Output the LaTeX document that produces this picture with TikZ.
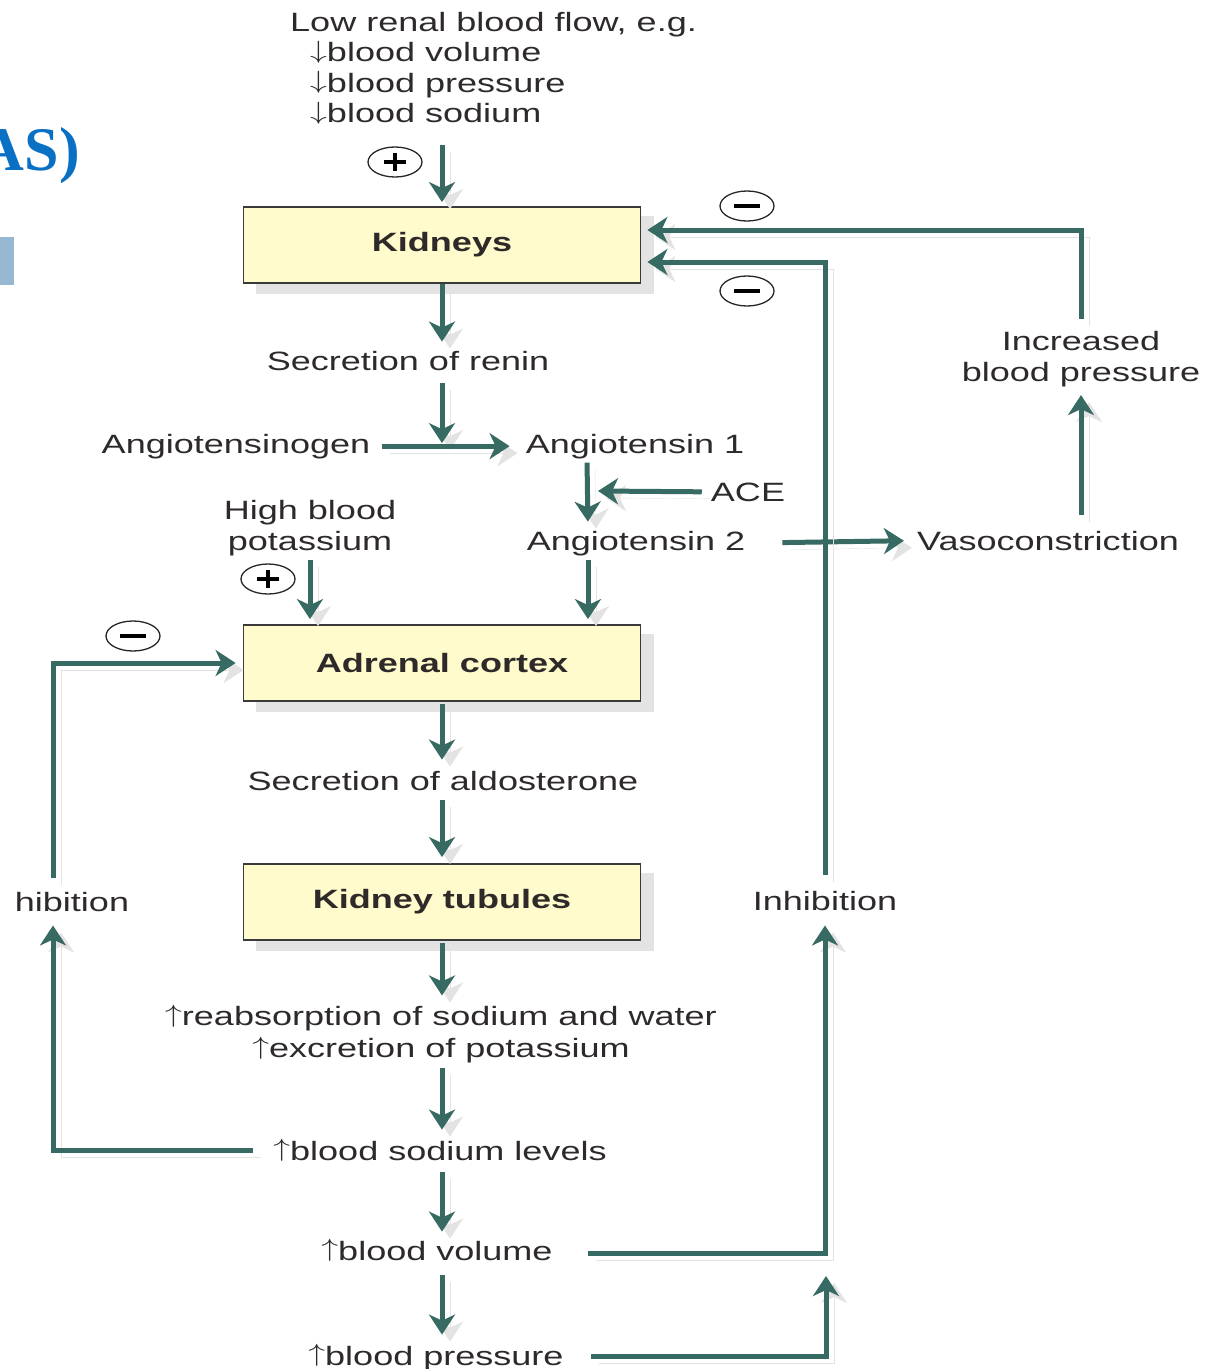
\documentclass[tikz,border=0pt]{standalone}
\usepackage{fontspec}
\usepackage{graphicx}
\setmainfont{Liberation Sans}[FakeStretch=1.36]
\newfontfamily\titlefont{Liberation Serif}
\usetikzlibrary{arrows.meta,shapes.geometric,calc}
\newcommand{\myup}{\smash{\raisebox{3.5pt}{\scalebox{1.35}[1.0]{$\uparrow$}}}}
\newcommand{\mydown}{\smash{\raisebox{3.5pt}{\scalebox{1.35}[1.0]{$\downarrow$}}}}
\definecolor{teal1}{HTML}{376A62}
\definecolor{shadowc}{HTML}{E3E3E3}
\definecolor{boxf}{HTML}{FFFBCC}
\definecolor{boxb}{HTML}{3A3A3A}
\definecolor{txtc}{HTML}{2E2A2A}
\definecolor{titleblue}{HTML}{0A70C4}
\definecolor{rectblue}{HTML}{97B8D3}
\tikzset{
  txt/.style={inner sep=0pt, text=txtc, font=\fontsize{26.5}{31}\selectfont},
  mbox/.style={draw=boxb, line width=1.8pt, fill=boxf, minimum width=397pt, minimum height=76pt,
    inner sep=0pt, text=txtc, font=\fontsize{26.5}{31}\selectfont\bfseries,
    preaction={fill=shadowc, draw=shadowc, transform canvas={shift={(13pt,-10pt)}}}},
  arr/.style={line width=5pt, draw=teal1, -{Stealth[length=20pt,width=26pt,inset=6pt]},
    preaction={draw=shadowc, transform canvas={shift={(8pt,-7pt)}}}},
  sign/.style={ellipse, draw=black!85, line width=1.3pt, minimum width=54pt, minimum height=30pt, inner sep=0pt},
  signline/.style={line width=3.2pt, draw=black, line cap=butt}
}
\begin{document}
\begin{tikzpicture}[x=1pt,y=-1pt]
\useasboundingbox (0,0) rectangle (1207,1369);
% title fragment and bar
\node[anchor=base east, inner sep=0pt, text=titleblue, font=\fontsize{62}{70}\selectfont\titlefont\bfseries] (ttl) at (80,170) {AS)};
\fill[rectblue] (0,237) rectangle (14,285);
% main nodes
\node[txt, anchor=north west, align=left, font=\fontsize{26.5}{30.5}\selectfont] (low) at (290,12)
  {Low renal blood flow, e.g.\\\hspace*{20pt}\mydown blood volume\\\hspace*{20pt}\mydown blood pressure\\\hspace*{20pt}\mydown blood sodium};
\node[mbox] (kid) at (442,245) {Kidneys};
\node[txt, anchor=base] (renin) at (408,370) {Secretion of renin};
\node[txt, anchor=base] (agen) at (236,453) {Angiotensinogen};
\node[txt, anchor=base] (a1) at (635,453) {Angiotensin 1};
\node[txt, anchor=base] (ace) at (748,501) {ACE};
\node[txt, anchor=base] (a2) at (636,550) {Angiotensin 2};
\node[txt, align=center] (hbp) at (310,528) {High blood\\potassium};
\node[mbox] (adr) at (442,663) {Adrenal cortex};
\node[txt, anchor=base] (aldo) at (443,790) {Secretion of aldosterone};
\node[mbox] (tub) at (442,902) {Kidney tubules};
\node[txt, align=center, font=\fontsize{26.5}{32}\selectfont] (reab) at (441,1035) {\myup reabsorption of sodium and water\\\myup excretion of potassium};
\node[txt, anchor=base] (sod) at (440,1160) {\myup blood sodium levels};
\node[txt, anchor=base] (vol) at (437,1260) {\myup blood volume};
\node[txt, anchor=base] (pres) at (436,1365) {\myup blood pressure};
\node[txt, anchor=base] (inh) at (825,910) {Inhibition};
\node[txt, anchor=base] (hib) at (72,911) {hibition};
\node[txt, anchor=base] (vaso) at (1048,550) {Vasoconstriction};
\node[txt, align=center] (ibp) at (1081,359) {Increased\\blood pressure};
\coordinate (acev) at (598,491);
\coordinate (pvend) at (826,1276);
% signs
\node[sign] (p1) at (395,162) {};
\node[sign] (m1) at (747,206) {};
\node[sign] (m2) at (747,291) {};
\node[sign] (p2) at (268,579) {};
\node[sign] (m3) at (133,636) {};
\foreach \s in {p1,p2}{
  \draw[signline] ([xshift=-11pt]\s.center) -- ([xshift=11pt]\s.center);
  \draw[signline] ([yshift=-9pt]\s.center) -- ([yshift=9pt]\s.center);
}
\foreach \s in {m1,m2,m3}{
  \draw[signline] ([xshift=-13pt]\s.center) -- ([xshift=13pt]\s.center);
}
% arrows, main column
\draw[arr, shorten <=22pt, shorten >=4pt] (low.south -| kid.north) -- (kid.north);
\draw[arr, shorten >=9pt] (kid.south) -- (kid.south |- renin.north);
\draw[arr, shorten <=13pt, shorten >=3pt] (kid.south |- renin.south) -- (kid.south |- agen.east);
\draw[arr, shorten <=12pt, shorten >=16pt] (agen.east) -- (a1.west);
\draw[arr, shorten <=4pt, shorten >=9pt] ([xshift=-48pt]a1.south) -- ([xshift=-48pt]a2.north);
\draw[arr, shorten <=9pt] (ace.west) -- (acev);
\draw[arr, shorten <=4pt, shorten >=5pt] ([xshift=-48pt]a2.south) -- ([xshift=-48pt]a2.south |- adr.north);
\draw[arr, shorten <=4pt, shorten >=5pt] (hbp.south) -- (hbp.south |- adr.north);
\draw[arr, shorten <=2pt, shorten >=11pt] (adr.south) -- (adr.south |- aldo.north);
\draw[arr, shorten <=10pt, shorten >=6pt] (adr.south |- aldo.south) -- (tub.north);
\draw[arr, shorten <=2pt, shorten >=11pt] (tub.south) -- (tub.south |- reab.north);
\draw[arr, shorten <=4pt, shorten >=11pt] (tub.south |- reab.south) -- (tub.south |- sod.north);
\draw[arr, shorten <=12pt, shorten >=9pt] (tub.south |- sod.south) -- (tub.south |- vol.north);
\draw[arr, shorten <=15pt, shorten >=11pt] (tub.south |- vol.south) -- (tub.south |- pres.north);
% right side
\draw[arr, shorten <=37pt, shorten >=13pt] (a2.east) -- (vaso.west);
\draw[arr, shorten <=16pt, shorten >=8pt] (ibp.south |- vaso.north) -- (ibp.south);
\draw[arr, shorten <=12pt, shorten >=6pt] (ibp.north) |- ([yshift=15pt]kid.east);
\draw[arr, shorten <=16pt, shorten >=6pt] (inh.north) |- ([yshift=-17pt]kid.east);
\draw[arr, shorten <=35pt, shorten >=15pt] ([yshift=-3pt]vol.east) -| (inh.south);
\draw[arr, shorten <=27pt] ([yshift=2pt]pres.east) -| (pvend);
% left loop
\draw[arr, shorten <=20pt, shorten >=14pt] (sod.west) -| ([xshift=-19pt]hib.south);
\draw[arr, shorten <=14pt, shorten >=7pt] ([xshift=-19pt]hib.north) |- (adr.west);
\end{tikzpicture}
\end{document}
